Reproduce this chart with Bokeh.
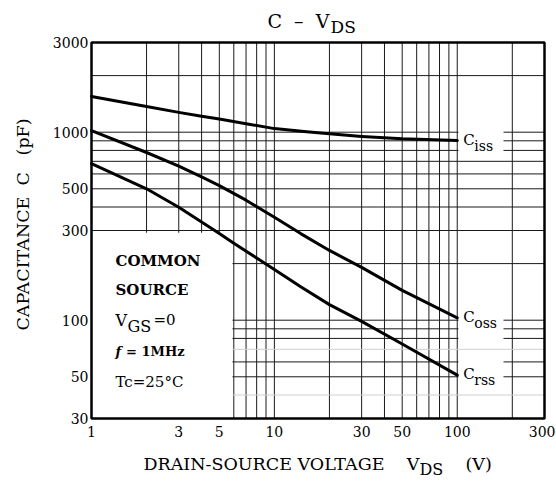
import math
from bokeh.plotting import figure
from bokeh.models import Label, Range1d, ColumnDataSource
from bokeh.core.properties import value
from bokeh.embed import file_html
from bokeh.resources import INLINE

# ---- data ----
ciss_v = [1, 2, 3, 4, 5, 7, 10, 15, 20, 30, 50, 100]
ciss = [1550, 1370, 1275, 1215, 1175, 1110, 1045, 1005, 980, 950, 922, 903]
coss_v = [1, 2, 3, 4, 5, 7, 10, 14, 20, 30, 50, 100]
coss = [1020, 780, 660, 578, 520, 435, 353, 288, 235, 191, 144, 103]
crss_v = [1, 2, 3, 4, 5, 6, 8, 10, 14, 20, 30, 50, 100]
crss = [680, 500, 399, 333, 289, 257, 214, 186, 150, 121, 98.5, 74.7, 51]

x_ticks = [1, 3, 5, 10, 30, 50, 100, 300]
x_tick_labels = ["1", "3", "5", "10", "30", "50", "100", "300"]
y_ticks = [30, 50, 100, 300, 500, 1000, 3000]
y_tick_labels = ["30", "50", "100", "300", "500", "1000", "3000"]

grid_x = [2, 3, 4, 5, 6, 7, 8, 9, 10, 20, 30, 40, 50, 60, 70, 80, 90, 100, 200]
grid_y = [50, 60, 80, 90, 100, 200, 300, 400, 500, 600, 700, 800, 900, 1000, 2000]
grid_y_light = [40, 70]

curve_names = ["iss", "oss", "rss"]

XMIN, XMAX = 1, 300
YMIN, YMAX = 30, 3000

# ---- layout (pixels) ----
W, H = 556, 480
FX0, FX1, FY0, FY1 = 91, 544, 42, 418   # data box inside the canvas
FONT = "DejaVu Serif"

dec_x = (FX1 - FX0) / math.log10(XMAX / XMIN)
dec_y = (FY1 - FY0) / math.log10(YMAX / YMIN)
x_range = Range1d(XMIN * 10 ** (-FX0 / dec_x), XMIN * 10 ** ((W - FX0) / dec_x))
y_range = Range1d(YMIN * 10 ** (-(H - FY1) / dec_y), YMAX * 10 ** (FY0 / dec_y))

p = figure(width=W, height=H, x_axis_type="log", y_axis_type="log",
           x_range=x_range, y_range=y_range,
           x_axis_location=None, y_axis_location=None,
           min_border=0, min_border_left=0, min_border_right=0,
           min_border_top=0, min_border_bottom=0,
           output_backend="svg", toolbar_location=None,
           background_fill_color="white", border_fill_color="white")
p.outline_line_color = None
p.grid.visible = False

# grid
p.segment(x0=grid_x, y0=[YMIN] * len(grid_x), x1=grid_x, y1=[YMAX] * len(grid_x),
          line_color="#1a1a1a", line_width=1)
p.segment(x0=[XMIN] * len(grid_y), y0=grid_y, x1=[XMAX] * len(grid_y), y1=grid_y,
          line_color="#1a1a1a", line_width=1)
p.segment(x0=[XMIN] * len(grid_y_light), y0=grid_y_light,
          x1=[XMAX] * len(grid_y_light), y1=grid_y_light,
          line_color="#cfcfcf", line_width=1)

# white areas without grid (condition box and curve-name boxes)
p.quad(left=[XMIN, 101.5, 101.5, 101.5], right=[5.9, 179, 179, 179],
       bottom=[YMIN, 745, 75, 44.5], top=[292, 1085, 110, 65],
       fill_color="white", line_color=None)

# frame border
p.quad(left=[XMIN], right=[XMAX], bottom=[YMIN], top=[YMAX],
       fill_color=None, line_color="black", line_width=2.5)

# curves
for xs, ys in ((ciss_v, ciss), (coss_v, coss), (crss_v, crss)):
    p.line(xs, ys, line_color="black", line_width=3, line_join="round", line_cap="round")

txt = dict(text_color="black", text_font=value(FONT))

# tick labels
p.text(x=x_ticks[:-1], y=[YMIN] * (len(x_ticks) - 1), text=x_tick_labels[:-1],
       y_offset=7, text_baseline="top", text_align="center", text_font_size="14px", **txt)
p.text(x=x_ticks[-1:], y=[YMIN], text=x_tick_labels[-1:],
       x_offset=11, y_offset=7, text_baseline="top", text_align="right",
       text_font_size="14px", **txt)
p.text(x=[XMIN] * len(y_ticks), y=y_ticks, text=y_tick_labels,
       x_offset=-3, text_baseline="middle", text_align="right", text_font_size="14px", **txt)

# curve names
src = ColumnDataSource(dict(x=[ciss_v[-1], coss_v[-1], crss_v[-1]],
                            y=[ciss[-1], coss[-1], crss[-1]],
                            main=["C", "C", "C"], sub=curve_names))
p.text(x="x", y="y", text="main", source=src, x_offset=6, y_offset=-1,
       text_baseline="middle", text_align="left", text_font_size="15px", **txt)
p.text(x="x", y="y", text="sub", source=src, x_offset=17, y_offset=5,
       text_baseline="middle", text_align="left", text_font_size="14px", **txt)


def lab(text, x, y, size, style="normal", align="left", angle=0.0):
    p.add_layout(Label(x=x, y=y, x_units="canvas", y_units="canvas",
                       text=text, text_font=FONT, text_font_size=size,
                       text_font_style=style, text_align=align,
                       text_baseline="middle", text_color="black", angle=angle))


# title
lab("C\u00a0\u00a0\u2013\u00a0\u00a0V", 267, 20, "19px")
lab("DS", 330, 26, "17px")
# axis titles
lab("DRAIN-SOURCE VOLTAGE\u00a0\u00a0\u00a0\u00a0V", 143, 463, "17.5px")
lab("DS", 419, 468.5, "16px")
lab("(V)", 465, 463, "17.5px")
lab("CAPACITANCE\u00a0\u00a0C\u00a0\u00a0\u00a0(pF)", 22, 224, "17.5px", align="center", angle=math.pi / 2)
# condition box
lab("COMMON", 115, 260.5, "15px", style="bold")
lab("SOURCE", 115, 289, "15px", style="bold")
lab("V", 115, 319.5, "16px")
lab("GS", 127, 325.5, "16px")
lab("=0", 153, 319.5, "15px")
lab("f", 115, 350.5, "13px", style="bold italic")
lab("\u00a0=\u00a01MHz", 121, 350.5, "13px", style="bold")
lab("Tc=25\u00b0C", 115, 381, "15px")

open("out.html", "w").write(file_html(p, INLINE))
